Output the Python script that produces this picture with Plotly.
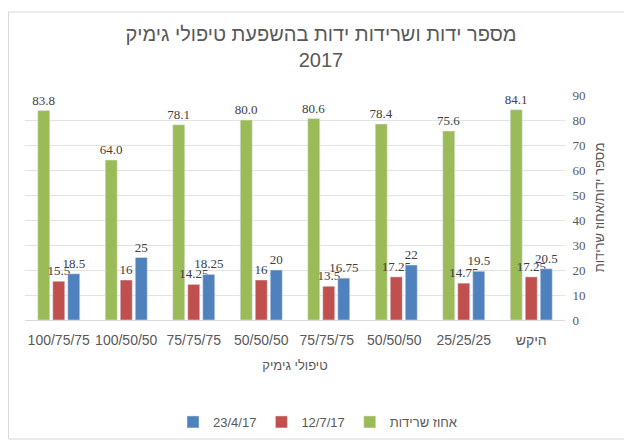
import plotly.graph_objects as go

categories = ["100/75/75", "100/50/50", "75/75/75", "50/50/50", "75/75/75 ", "50/50/50 ", "25/25/25", "היקש"]
survival = [83.8, 64.0, 78.1, 80.0, 80.6, 78.4, 75.6, 84.1]
count_12_7 = [15.5, 16, 14.25, 16, 13.5, 17.25, 14.75, 17.25]
count_23_4 = [18.5, 25, 18.25, 20, 16.75, 22, 19.5, 20.5]

OFF = 8  # page body margin
W, H = 632 - OFF, 441 - OFF
L, R, T, B = 25 - OFF, 632 - 565, 95 - OFF, 441 - 320
pw, ph = W - L - R, H - T - B

gray = "#595959"
label_font = dict(family="Liberation Serif, Times New Roman, serif", size=13, color="#404040")

fig = go.Figure()
fig.add_trace(go.Bar(x=categories, y=survival, name="אחוז שרידות", marker_color="#9BBB59",
                     texttemplate="%{y:.1f}", textposition="outside", textfont=label_font,
                     constraintext="none", cliponaxis=False, legendrank=3))
fig.add_trace(go.Bar(x=categories, y=count_12_7, name="12/7/17", marker_color="#C0504D",
                     texttemplate="%{y}", textposition="outside", textfont=label_font,
                     constraintext="none", cliponaxis=False, legendrank=2))
fig.add_trace(go.Bar(x=categories, y=count_23_4, name="23/4/17", marker_color="#4F81BD",
                     texttemplate="%{y}", textposition="outside", textfont=label_font,
                     constraintext="none", cliponaxis=False, legendrank=1))

def px_x(x):
    # page x -> paper fraction
    return (x - OFF - L) / pw

def px_y(y):
    # page y -> paper fraction
    return (H - B - (y - OFF)) / ph

fig.update_layout(
    width=W, height=H,
    margin=dict(l=L, r=R, t=T, b=B, autoexpand=False),
    paper_bgcolor="white", plot_bgcolor="white",
    barmode="group", bargap=0.333, bargroupgap=0.2,
    title=dict(text="מספר ידות ושרידות ידות בהשפעת טיפולי גימיק<br>2017",
               x=(321 - OFF) / W, xanchor="center", yref="container", y=1 - 33 / H, yanchor="top",
               font=dict(family="Liberation Sans, Arial, sans-serif", size=20, color=gray)),
    xaxis=dict(
        title=dict(text="טיפולי גימיק", standoff=14,
                   font=dict(family="Liberation Sans, Arial, sans-serif", size=13, color=gray)),
        tickfont=dict(family="Liberation Sans, Arial, sans-serif", size=14, color=gray),
        ticks="outside", ticklen=7, tickcolor="rgba(0,0,0,0)",
        showline=True, linecolor="#d9d9d9", linewidth=1,
    ),
    yaxis=dict(
        side="right", range=[0, 90], dtick=10,
        showgrid=True, gridcolor="#e3e3e3", gridwidth=1, zeroline=False,
        tickfont=dict(family="Liberation Serif, Times New Roman, serif", size=13, color=gray),
        ticks="outside", ticklen=4, tickcolor="rgba(0,0,0,0)",
        title=dict(text="מספר ידות/אחוז שרידות", standoff=10,
                   font=dict(family="Liberation Sans, Arial, sans-serif", size=13, color=gray)),
    ),
    legend=dict(orientation="h", x=px_x(318), xanchor="center", y=px_y(422), yanchor="middle",
                font=dict(family="Liberation Sans, Arial, sans-serif", size=13, color=gray),
                itemwidth=30),
    showlegend=True,
    shapes=[dict(type="rect", xref="paper", yref="paper",
                 x0=px_x(8.5), x1=px_x(629), y0=px_y(439), y1=px_y(12),
                 line=dict(color="#d9d9d9", width=1), fillcolor="rgba(0,0,0,0)", layer="below")],
)

fig.write_html("out.html")
